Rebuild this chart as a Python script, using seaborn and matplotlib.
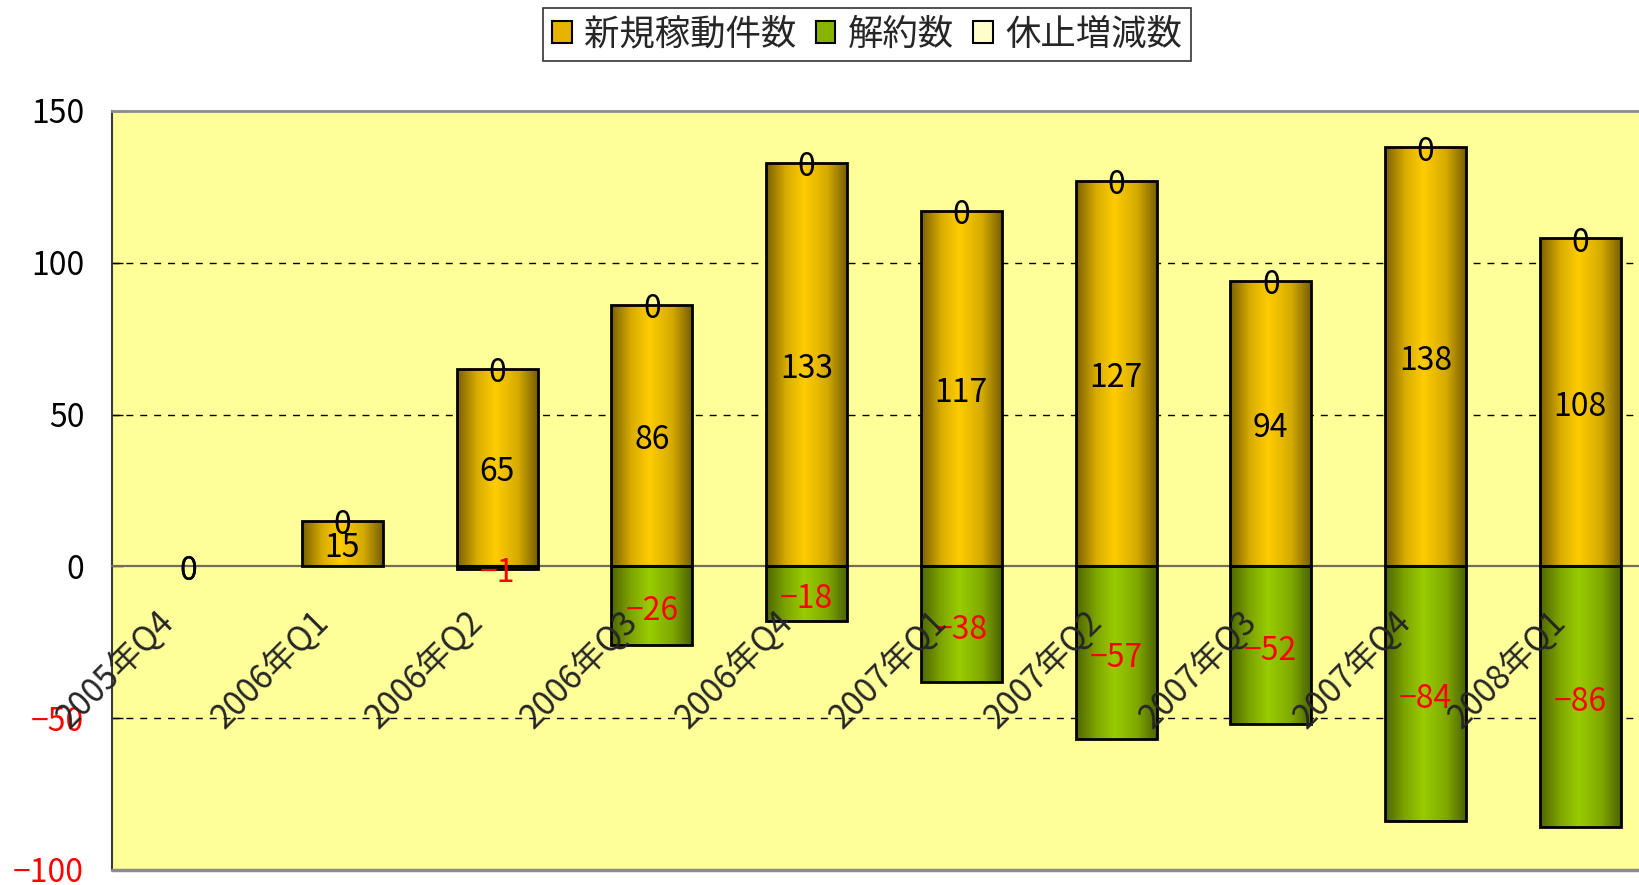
import numpy as np
import pandas as pd
import matplotlib
matplotlib.use("Agg")
import matplotlib.pyplot as plt
import matplotlib.transforms as mtransforms
from matplotlib.colors import LinearSegmentedColormap
from matplotlib.patches import Patch
import seaborn as sns

# data
quarters = ["2005年Q4", "2006年Q1", "2006年Q2", "2006年Q3", "2006年Q4",
            "2007年Q1", "2007年Q2", "2007年Q3", "2007年Q4", "2008年Q1"]
new_active = [0, 15, 65, 86, 133, 117, 127, 94, 138, 108]
cancelled = [0, 0, -1, -26, -18, -38, -57, -52, -84, -86]
paused = [0, 0, 0, 0, 0, 0, 0, 0, 0, 0]
series_names = ["新規稼動件数", "解約数", "休止増減数"]
yticks = [-100, -50, 0, 50, 100, 150]

sns.set_style("white")
plt.rcParams["font.family"] = ["Noto Sans CJK JP", "DejaVu Sans"]
plt.rcParams["axes.unicode_minus"] = True

df = pd.DataFrame({"quarter": quarters, "new": new_active,
                   "cancel": cancelled, "pause": paused})

fig = plt.figure(figsize=(16.39, 8.85), dpi=100)
ax = fig.add_axes([0.0683, 0.0170, 0.9317, 0.8576])
ax.set_facecolor("#ffff99")

bar_w = 0.524
sns.barplot(data=df, x="quarter", y="new", color="#ffcc00", saturation=1,
            width=bar_w, edgecolor="black", linewidth=2, ax=ax)
sns.barplot(data=df, x="quarter", y="cancel", color="#99cc00", saturation=1,
            width=bar_w, edgecolor="black", linewidth=2, ax=ax)

gold = LinearSegmentedColormap.from_list("gold", [
    (0, "#7a6000"), (0.25, "#d9ad00"), (0.47, "#ffcc00"),
    (0.75, "#d4aa00"), (1, "#735c00")])
green = LinearSegmentedColormap.from_list("green", [
    (0, "#4d6600"), (0.25, "#7fa600"), (0.47, "#99cc00"),
    (0.75, "#80a800"), (1, "#4a6000")])
grad = np.linspace(0, 1, 256)[np.newaxis, :]

# gradient fill inside every bar
n = len(quarters)
for k, patch in enumerate(list(ax.patches)):
    x0, w = patch.get_x(), patch.get_width()
    y0, h = patch.get_y(), patch.get_height()
    if h == 0:
        patch.set_visible(False)
        continue
    cmap = gold if k < n else green
    im = ax.imshow(grad, cmap=cmap, aspect="auto", interpolation="bilinear",
                   extent=[x0, x0 + w, min(y0, y0 + h), max(y0, y0 + h)],
                   zorder=2)
    im.set_clip_path(patch)
    patch.set_facecolor("none")
    patch.set_zorder(3)

ax.set_xlim(-0.49, 9.38)
ax.set_ylim(-100, 150)

# dashed grid
for g in [50, 100, -50]:
    ax.axhline(g, color="black", lw=1, ls=(0, (5, 5)), zorder=1)

# value labels
for i in range(n):
    ax.annotate(str(new_active[i]), (i, new_active[i] / 2), xytext=(0, -3),
                textcoords="offset points", ha="center", va="center",
                fontsize=23, color="black", zorder=5)
    if cancelled[i] != 0:
        ax.annotate(str(cancelled[i]).replace("-", "\u2212"), (i, cancelled[i] / 2),
                    xytext=(0, -4), textcoords="offset points", ha="center",
                    va="center", fontsize=23, color="red", zorder=5)
    ax.annotate(str(paused[i]), (i, new_active[i] + paused[i]), xytext=(0, -3),
                textcoords="offset points", ha="center", va="center",
                fontsize=23, color="black", zorder=5)

# axes: x axis crosses at zero
ax.spines["bottom"].set_position(("data", 0))
ax.spines["bottom"].set_color("#6f6f5a")
ax.spines["bottom"].set_linewidth(1.6)
ax.spines["right"].set_visible(False)
ax.spines["top"].set_color("#8c8c8c")
ax.spines["top"].set_linewidth(2)
ax.spines["left"].set_color("#3a3a3a")
ax.spines["left"].set_linewidth(1.5)
ax.axhline(-100, color="#8c8c8c", lw=2.5, clip_on=False, zorder=6)
ax.xaxis.set_zorder(6)

ax.set_xticks(range(n))
ax.set_xticks(np.arange(0.5, n - 1, 1.0), minor=True)
ax.set_xticklabels(quarters)
ax.tick_params(axis="x", which="major", length=0, pad=27, labelsize=24)
ax.tick_params(axis="x", which="minor", direction="in", length=8,
               width=1, color="black")
shift = mtransforms.ScaledTranslation(-0.32, 0, fig.dpi_scale_trans)
for lab in ax.get_xticklabels():
    lab.set_rotation(45)
    lab.set_ha("right")
    lab.set_va("top")
    lab.set_rotation_mode("anchor")
    lab.set_transform(lab.get_transform() + shift)

ax.set_yticks(yticks)
ax.set_yticklabels([str(v).replace("-", "\u2212") for v in yticks])
ax.tick_params(axis="y", direction="in", length=8, width=1, color="black",
               pad=20, labelsize=23, left=True)
for lab, v in zip(ax.get_yticklabels(), yticks):
    lab.set_color("red" if v < 0 else "black")
ax.set_xlabel("")
ax.set_ylabel("")

handles = [Patch(facecolor="#e6b400", edgecolor="black", lw=1.5),
           Patch(facecolor="#88b400", edgecolor="black", lw=1.5),
           Patch(facecolor="#ffffcc", edgecolor="black", lw=1.5)]
leg = fig.legend(handles, series_names, loc="center",
                 bbox_to_anchor=(0.529, 0.961), ncol=3, fontsize=25.5,
                 frameon=True, fancybox=False, shadow=False,
                 handlelength=0.55, handleheight=0.6, handletextpad=0.35,
                 columnspacing=0.55, borderpad=0.25, borderaxespad=0)
leg.get_frame().set_edgecolor("black")
leg.get_frame().set_linewidth(1.2)

fig.savefig("out.png", dpi=100, facecolor="white")
